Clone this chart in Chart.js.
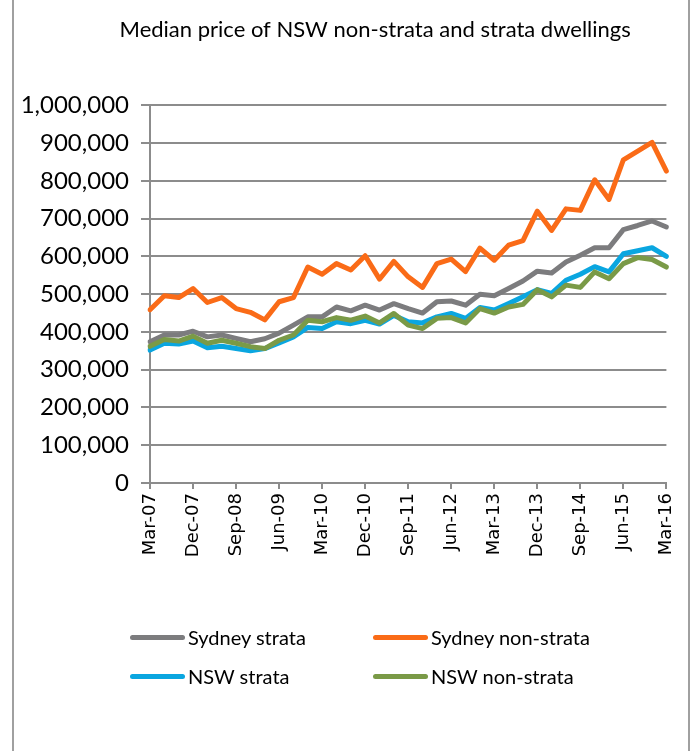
<!DOCTYPE html>
<html>
<head>
<meta charset="utf-8">
<script src="https://cdn.jsdelivr.net/npm/chart.js@4"></script>
<style>
    html, body { margin: 0; padding: 0; background: #fff; }
    #wrap { position: relative; width: 692px; height: 751px; overflow: hidden; }
    #frame { position: absolute; left: 12px; top: -2px; width: 674px; height: 760px;
             border-left: 2px solid #a0a0a0; border-right: 2px solid #a0a0a0; }
    canvas { position: absolute; left: 0; top: 0; }
    #legend { position: absolute; left: 130px; top: 624px; width: 500px;
              display: grid; grid-template-columns: 243px 250px; row-gap: 13px;
              font-family: Lato, sans-serif; font-size: 20px; color: #000; }
    .item { display: flex; align-items: center; height: 26px; }
    .swatch { width: 55px; height: 5px; border-radius: 3px; margin-right: 3px; }
</style>
</head>
<body>
<div id="wrap">
    <div id="frame"></div>
    <canvas id="priceChart" width="692" height="751"></canvas>
    <div id="legend"></div>
</div>
<script>
// quarters Mar-07 .. Mar-16
const quarters = [];
const months = ['Mar', 'Jun', 'Sep', 'Dec'];
for (let y = 7; y <= 16; y++) {
    months.forEach(m => {
        if (y === 16 && m !== 'Mar') return;
        quarters.push(m + '-' + String(y).padStart(2, '0'));
    });
}

// values in $'000
const sydneyStrata = [374, 392, 392, 402, 387, 392, 383, 374, 382, 397, 418, 440, 440, 466, 456, 471,
    458, 475, 462, 450, 480, 482, 471, 500, 496, 515, 535, 561, 556, 585, 603, 623, 623, 671, 682, 694, 678];
const sydneyNonStrata = [459, 496, 491, 515, 478, 491, 462, 452, 432, 480, 491, 572, 553, 581, 564, 602,
    540, 587, 546, 518, 581, 593, 560, 622, 590, 630, 642, 720, 669, 726, 722, 803, 751, 856, 879, 902, 826];
const nswStrata = [352, 370, 368, 376, 358, 362, 356, 350, 356, 371, 387, 412, 409, 427, 422, 431,
    421, 444, 427, 424, 440, 449, 436, 465, 458, 475, 493, 512, 502, 537, 553, 573, 559, 607, 615, 623, 600];
const nswNonStrata = [362, 380, 376, 389, 370, 378, 370, 361, 356, 378, 392, 431, 427, 438, 431, 442,
    424, 449, 418, 409, 436, 438, 424, 462, 450, 466, 473, 512, 493, 524, 518, 559, 541, 581, 597, 592, 572];

const yTicks = [0, 100000, 200000, 300000, 400000, 500000, 600000, 700000, 800000, 900000, 1000000];

const series = [
    { label: 'Sydney strata', data: sydneyStrata, color: '#7c7c7e', order: 2 },
    { label: 'Sydney non-strata', data: sydneyNonStrata, color: '#fa6b17', order: 3 },
    { label: 'NSW strata', data: nswStrata, color: '#0aa6e0', order: 1 },
    { label: 'NSW non-strata', data: nswNonStrata, color: '#7a9a47', order: 0 }
];

// Excel put the title a bit left of the plot centre
const shiftTitle = {
    id: 'shiftTitle',
    afterLayout(chart) {
        const t = chart.titleBlock;
        if (!t) return;
        t.left = chart.chartArea.left - 66;
        t.right = chart.chartArea.right;
    }
};

const ctx = document.getElementById('priceChart').getContext('2d');
const chart = new Chart(ctx, {
    type: 'line',
    data: {
        labels: quarters,
        datasets: series.map(s => ({
            label: s.label,
            data: s.data.map(v => v * 1000),
            borderColor: s.color,
            backgroundColor: s.color,
            borderWidth: 5,
            pointRadius: 0,
            tension: 0,
            borderCapStyle: 'round',
            borderJoinStyle: 'round',
            fill: false,
            order: s.order
        }))
    },
    plugins: [shiftTitle],
    options: {
        responsive: false,
        animation: false,
        layout: { padding: { left: 15, right: 5, top: 0, bottom: 188 } },
        plugins: {
            legend: { display: false },
            tooltip: { enabled: false },
            title: {
                display: true,
                text: 'Median price of NSW non-strata and strata dwellings',
                color: '#000',
                font: { family: 'Lato', size: 22, weight: 'normal' },
                padding: { top: 17, bottom: 62 }
            }
        },
        scales: {
            x: {
                offset: false,
                grid: { drawOnChartArea: false, color: '#8c8c8c', lineWidth: 2, tickLength: 6 },
                border: { color: '#8c8c8c', width: 2 },
                ticks: {
                    autoSkip: false,
                    maxRotation: 90,
                    minRotation: 90,
                    padding: 4,
                    color: '#000',
                    font: { family: 'DejaVu Sans', size: 18 },
                    callback: function (val, i) {
                        return i % 3 === 0 ? quarters[i] : null;
                    }
                },
                afterFit: scale => { scale.height = 80; }
            },
            y: {
                min: 0,
                max: 1000000,
                afterBuildTicks: scale => { scale.ticks = yTicks.map(v => ({ value: v })); },
                grid: { color: '#8c8c8c', lineWidth: 2, tickLength: 9 },
                border: { color: '#8c8c8c', width: 2 },
                ticks: {
                    padding: 12,
                    color: '#000',
                    font: { family: 'Lato', size: 24 },
                    callback: v => v.toLocaleString('en-US')
                },
                afterFit: scale => { scale.width = 135; }
            }
        }
    }
});

// html legend in a 2x2 grid, built from the datasets
const legendBox = document.getElementById('legend');
chart.data.datasets.forEach(ds => {
    const item = document.createElement('div');
    item.className = 'item';
    const sw = document.createElement('span');
    sw.className = 'swatch';
    sw.style.background = ds.borderColor;
    const txt = document.createElement('span');
    txt.textContent = ds.label;
    item.appendChild(sw);
    item.appendChild(txt);
    legendBox.appendChild(item);
});
</script>
</body>
</html>
